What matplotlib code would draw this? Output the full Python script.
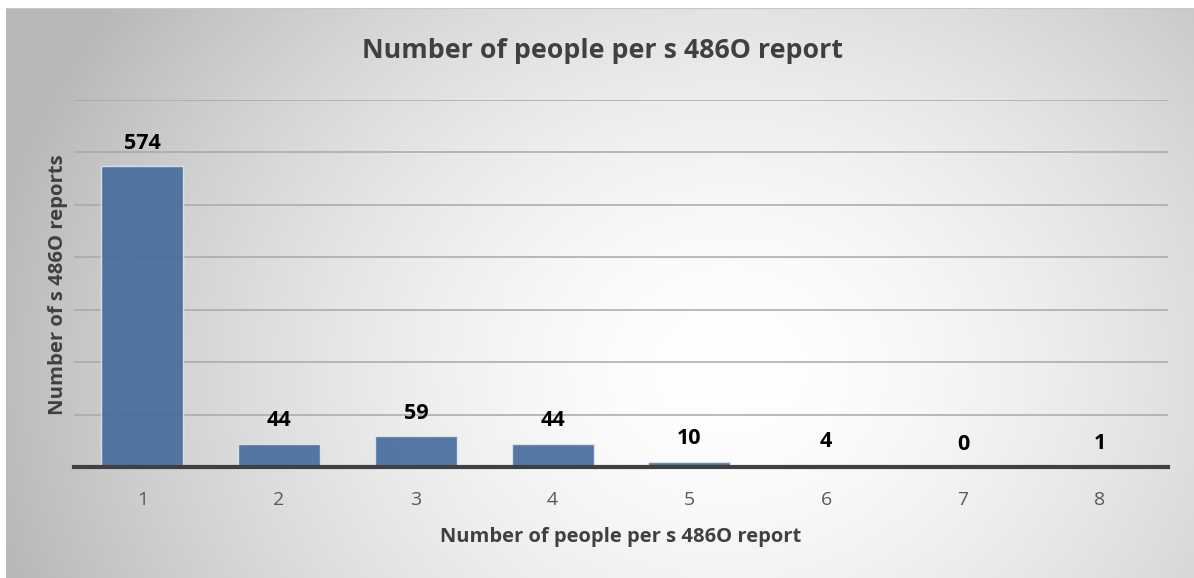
import numpy as np
import matplotlib
matplotlib.use("Agg")
import matplotlib.pyplot as plt

categories = ["1", "2", "3", "4", "5", "6", "7", "8"]
counts = [574, 44, 59, 44, 10, 4, 0, 1]

title = "Number of people per s 486O report"
xlabel = "Number of people per s 486O report"
ylabel = "Number of s 486O reports"

plt.rcParams['font.family'] = ['Open Sans', 'DejaVu Sans']

W, H = 1194, 578
fig = plt.figure(figsize=(W / 100, H / 100), dpi=100)
fig.patch.set_facecolor("white")

# radial gradient backdrop for the chart frame
bx0, by0, bx1, by1 = 6, 0, 1194, 570  # pixel box (y from bottom)
bg = fig.add_axes([bx0 / W, by0 / H, (bx1 - bx0) / W, (by1 - by0) / H])
bg.set_axis_off()
nx, ny = 600, 300
xs = np.linspace(bx0, bx1, nx)
ys = np.linspace(by1, by0, ny)
XX, YY = np.meshgrid(xs, ys)
cx, cy = 730, H - 370
r = np.sqrt(((XX - cx) / 1.0) ** 2 + ((YY - cy) / 0.85) ** 2)
t = np.clip(r / 760, 0, 1)
shade = 1.0 - 0.28 * t ** 1.6
img = np.dstack([shade, shade, shade])
bg.imshow(img, extent=[0, 1, 0, 1], aspect="auto", zorder=0)
bg.set_xlim(0, 1)
bg.set_ylim(0, 1)
bg.plot([0, 1], [1, 1], color="#c8c8c8", lw=1.5)

# plotting area
ax_l, ax_r = 74, 1168
ax_b, ax_t = H - 467, H - 100
ax = fig.add_axes([ax_l / W, ax_b / H, (ax_r - ax_l) / W, (ax_t - ax_b) / H])
ax.patch.set_alpha(0)

x = np.arange(len(categories))
ax.set_xlim(-0.5, len(categories) - 0.5)
ax.set_ylim(0, 700)
ax.set_yticks(np.arange(0, 701, 100))
ax.yaxis.grid(True, color="#a8a8a8", lw=1.1, zorder=0)
ax.set_axisbelow(True)
ax.tick_params(axis="y", left=False, labelleft=False)
ax.tick_params(axis="x", bottom=False, labelsize=14, labelcolor="#595959", pad=14)
ax.set_xticks(x)
ax.set_xticklabels(categories)
for s in ["top", "right", "left"]:
    ax.spines[s].set_visible(False)
ax.spines["bottom"].set_color("#404040")
ax.spines["bottom"].set_linewidth(3)
ax.spines["bottom"].set_zorder(5)

ax.bar(x, counts, width=0.6, color="#446a9b", alpha=0.9,
       edgecolor="#dfe6ef", linewidth=1.0, zorder=3)

for xi, v in zip(x, counts):
    ax.annotate(str(v), (xi, v), xytext=(0, 9), textcoords="offset points",
                ha="center", va="bottom", fontsize=15.5, fontweight="bold",
                color="black")

fig.text(603 / W, 1 - 51 / H, title, ha="center", va="center",
         fontsize=19.3, fontweight="bold", color="#404040")
fig.text(621 / W, 1 - 537 / H, xlabel, ha="center", va="center",
         fontsize=14.5, fontweight="bold", color="#404040")
fig.text(58 / W, 1 - 285 / H, ylabel, ha="center", va="center",
         rotation=90, fontsize=14.6, fontweight="bold", color="#404040")

fig.savefig("out.png", dpi=100)
